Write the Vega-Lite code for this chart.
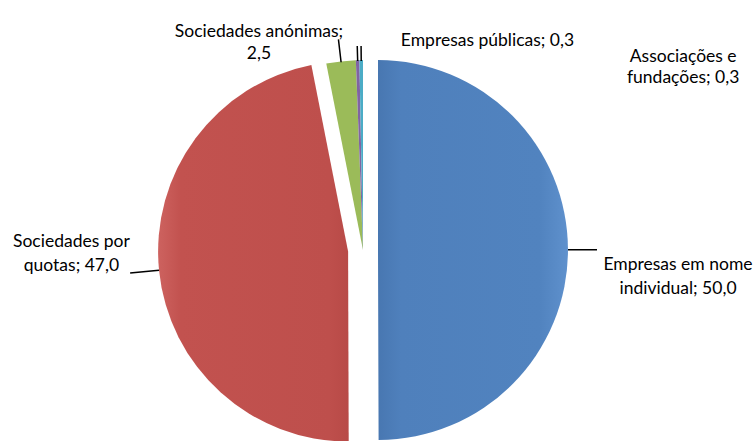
{
  "$schema": "https://vega.github.io/schema/vega-lite/v6.json",
  "width": 726,
  "height": 382,
  "autosize": {"type": "none"},
  "padding": {"left": 0, "top": 59, "right": 29, "bottom": 0},
  "background": "white",
  "config": {"view": {"stroke": null}, "text": {"font": "Lato", "fontSize": 17.5, "color": "black"}},
  "data": {"values": [
    {"categoria": "Empresas em nome individual", "valor": 50.0, "ordem": 1, "rotulo": "Empresas em nome\nindividual; 50,0"},
    {"categoria": "Sociedades por quotas", "valor": 47.0, "ordem": 2, "rotulo": "Sociedades por\nquotas; 47,0"},
    {"categoria": "Sociedades anónimas", "valor": 2.5, "ordem": 3, "rotulo": "Sociedades anónimas;\n2,5"},
    {"categoria": "Empresas públicas", "valor": 0.3, "ordem": 4, "rotulo": "Empresas públicas; 0,3"},
    {"categoria": "Associações e fundações", "valor": 0.3, "ordem": 5, "rotulo": "Associações e\nfundações; 0,3"}
  ]},
  "transform": [
    {"stack": "valor", "groupby": [], "sort": [{"field": "ordem", "order": "ascending"}], "as": ["ini", "fim"]},
    {"calculate": "(datum.ini + datum.fim) / 2", "as": "meio"}
  ],
  "layer": [
    {
      "transform": [{"filter": "datum.ordem == 1"}],
      "mark": {"type": "arc", "radius": 190, "x": {"expr": "width / 2 + 15"},
        "color": {"gradient": "linear", "x1": 0, "y1": 0, "x2": 1, "y2": 0,
          "stops": [{"offset": 0, "color": "#4877B1"}, {"offset": 0.12, "color": "#4F80BC"}, {"offset": 0.85, "color": "#5183BF"}, {"offset": 1, "color": "#5F91CD"}]}},
      "encoding": {
        "theta": {"field": "ini", "type": "quantitative", "stack": null, "scale": {"domain": [0, 100.1]}},
        "theta2": {"field": "fim"}
      }
    },
    {
      "transform": [{"filter": "datum.ordem == 2"}],
      "mark": {"type": "arc", "radius": 190, "x": {"expr": "width / 2 - 14.9"}, "y": {"expr": "height / 2 + 1.5"},
        "color": {"gradient": "linear", "x1": 0, "y1": 0, "x2": 1, "y2": 0,
          "stops": [{"offset": 0, "color": "#CD625F"}, {"offset": 0.12, "color": "#C2524F"}, {"offset": 0.9, "color": "#BE4F4C"}, {"offset": 1, "color": "#B84A47"}]}},
      "encoding": {
        "theta": {"field": "ini", "type": "quantitative", "stack": null, "scale": {"domain": [0, 100.1]}},
        "theta2": {"field": "fim"}
      }
    },
    {
      "transform": [{"filter": "datum.ordem >= 3"}],
      "mark": {"type": "arc", "radius": 190},
      "encoding": {
        "theta": {"field": "ini", "type": "quantitative", "stack": null, "scale": {"domain": [0, 100.1]}},
        "theta2": {"field": "fim"},
        "color": {"field": "categoria", "type": "nominal", "legend": null,
          "scale": {"domain": ["Empresas em nome individual", "Sociedades por quotas", "Sociedades anónimas", "Empresas públicas", "Associações e fundações"],
                    "range": ["#4F81BD", "#C0504D", "#9BBB59", "#8064A2", "#4BACC6"]}}
      }
    },
    {
      "transform": [{"filter": "datum.ordem <= 2"}],
      "mark": {"type": "arc", "radius": 234, "radius2": 205, "stroke": "black", "strokeWidth": 1.5, "fillOpacity": 0},
      "encoding": {
        "theta": {"field": "meio", "type": "quantitative", "stack": null, "scale": {"domain": [0, 100.1]}},
        "theta2": {"field": "meio"}
      }
    },
    {
      "transform": [{"filter": "datum.ordem == 3"}],
      "mark": {"type": "arc", "radius": 212, "radius2": 189, "stroke": "black", "strokeWidth": 1.5, "fillOpacity": 0},
      "encoding": {
        "theta": {"field": "meio", "type": "quantitative", "stack": null, "scale": {"domain": [0, 100.1]}},
        "theta2": {"field": "meio"}
      }
    },
    {
      "transform": [{"filter": "datum.ordem >= 4"}],
      "mark": {"type": "arc", "radius": 204, "radius2": 189, "stroke": "black", "strokeWidth": 1.5, "fillOpacity": 0},
      "encoding": {
        "theta": {"field": "meio", "type": "quantitative", "stack": null, "scale": {"domain": [0, 100.1]}},
        "theta2": {"field": "meio"}
      }
    },
    {
      "transform": [{"filter": "datum.ordem == 1"}],
      "mark": {"type": "text", "radius": 315, "dy": 15.5, "align": "center", "baseline": "middle", "lineBreak": "\n", "lineHeight": 24},
      "encoding": {
        "theta": {"field": "meio", "type": "quantitative", "stack": null, "scale": {"domain": [0, 100.1]}},
        "text": {"field": "rotulo"}
      }
    },
    {
      "transform": [{"filter": "datum.ordem == 2"}],
      "mark": {"type": "text", "radius": 293, "dy": -37, "align": "center", "baseline": "middle", "lineBreak": "\n", "lineHeight": 24},
      "encoding": {
        "theta": {"field": "meio", "type": "quantitative", "stack": null, "scale": {"domain": [0, 100.1]}},
        "text": {"field": "rotulo"}
      }
    },
    {
      "transform": [{"filter": "datum.ordem == 3"}],
      "mark": {"type": "text", "radius": 219.5, "dx": -78.6, "align": "center", "baseline": "middle", "lineBreak": "\n", "lineHeight": 22},
      "encoding": {
        "theta": {"field": "meio", "type": "quantitative", "stack": null, "scale": {"domain": [0, 100.1]}},
        "text": {"field": "rotulo"}
      }
    },
    {
      "transform": [{"filter": "datum.ordem == 4"}],
      "mark": {"type": "text", "radius": 209, "dx": 130.4, "align": "center", "baseline": "middle", "lineBreak": "\n", "lineHeight": 22},
      "encoding": {
        "theta": {"field": "meio", "type": "quantitative", "stack": null, "scale": {"domain": [0, 100.1]}},
        "text": {"field": "rotulo"}
      }
    },
    {
      "transform": [{"filter": "datum.ordem == 5"}],
      "mark": {"type": "text", "radius": 192.6, "dx": 322, "align": "center", "baseline": "middle", "lineBreak": "\n", "lineHeight": 21},
      "encoding": {
        "theta": {"field": "meio", "type": "quantitative", "stack": null, "scale": {"domain": [0, 100.1]}},
        "text": {"field": "rotulo"}
      }
    }
  ]
}
